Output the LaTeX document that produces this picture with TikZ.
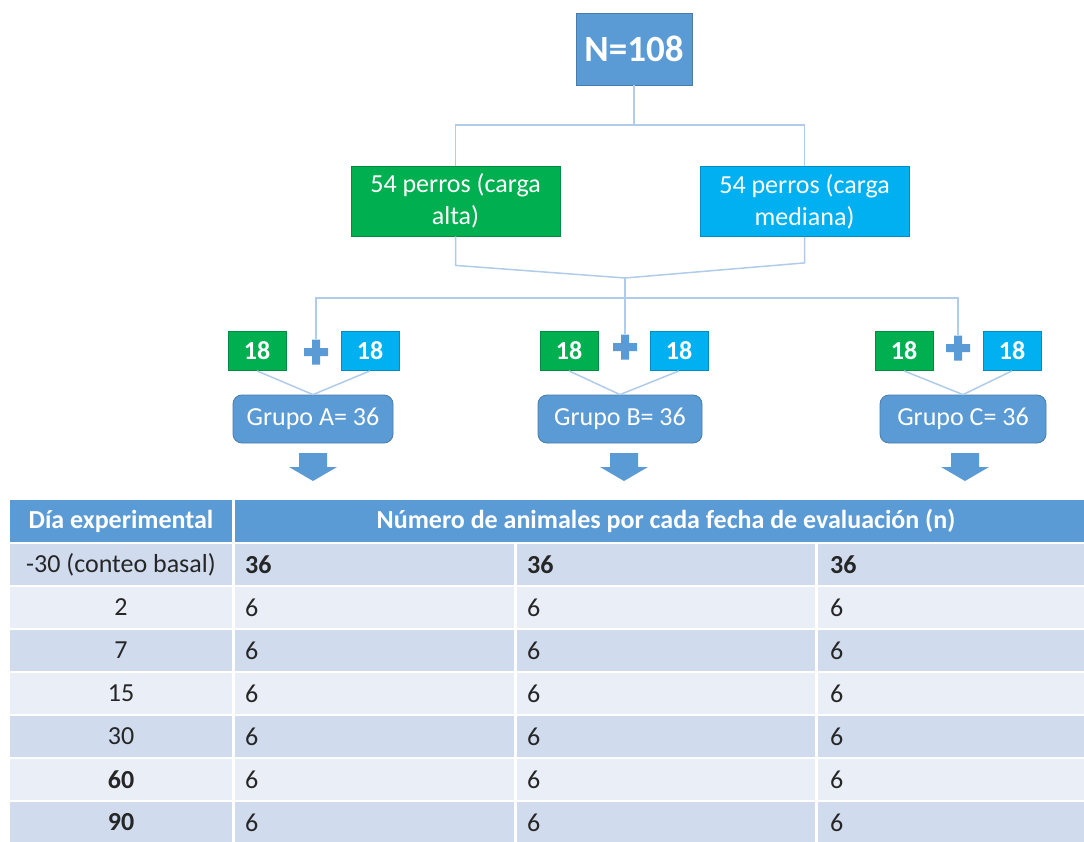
\documentclass[tikz,border=0pt]{standalone}
\usepackage{fontspec}
\setmainfont{Carlito}
\usepackage{xcolor}
\usepackage{tikz}
\usetikzlibrary{arrows.meta}
\usetikzlibrary{positioning}
\usetikzlibrary{calc}

\definecolor{boxBlue}{RGB}{91,155,213}
\definecolor{boxGreen}{RGB}{0,176,80}
\definecolor{boxCyan}{RGB}{0,176,240}
\definecolor{linkColor}{RGB}{176,204,234}
\definecolor{rowDark}{RGB}{208,219,238}
\definecolor{rowLight}{RGB}{233,238,247}
\definecolor{textColor}{RGB}{38,38,38}

\newcommand{\bigsize}{\fontsize{37}{40}\selectfont}
\newcommand{\mainsize}{\fontsize{26}{32}\selectfont}

\tikzset{
  box/.style = {draw=#1!80!black, line width=0.8pt, fill=#1, text=white, inner sep=0pt},
  halfbox/.style = {box=#1, minimum width=58, minimum height=39, font=\mainsize\bfseries},
  loadbox/.style = {box=#1, minimum width=209, minimum height=70, align=center, font=\mainsize},
  grupo/.style = {box=boxBlue, rounded corners=9, minimum width=162, minimum height=48, font=\mainsize},
  link/.style = {draw=linkColor, line width=1.5pt},
  cell/.style = {text=textColor, inner sep=0pt, font=\mainsize},
}

\begin{document}
\begin{tikzpicture}[x=1pt,y=-1pt]
\path[use as bounding box,fill=white] (0,0) rectangle (1084,842);

% arbol de grupos
\node[box=boxBlue, minimum width=116, minimum height=72, font=\bigsize\bfseries] (total) at (634,49) {N=108};
\node[loadbox=boxGreen] (alta) at (455.5,201) {54 perros (carga\\alta)};
\node[loadbox=boxCyan] (mediana) at (804.5,201.5) {54 perros (carga\\mediana)};

\coordinate (split) at (634,125);
\coordinate (merge) at (625,278);
\coordinate (bus) at (625,298);

\draw[link] (total) -- (split);
\draw[link] (alta) |- (split) -| (mediana);
\draw[link] (alta.south) -- ++(0,29) -- (merge);
\draw[link] (mediana.south) -- ++(0,26) -- (merge);
\draw[link] (merge) -- (bus);

\foreach \g/\xv/\xc/\xm/\ym/\xg/\w in {A/257/370/316/352/313/160, B/569/679/625/347/620/164, C/904/1012/958/348/963/166} {
  \node[halfbox=boxGreen] (verde\g) at (\xv,351) {18};
  \node[halfbox=boxCyan] (celeste\g) at (\xc,351) {18};
  \node[minimum size=25, inner sep=0pt] (mas\g) at (\xm,\ym) {};
  \fill[boxBlue] ($(mas\g)+(-12,-4)$) rectangle ($(mas\g)+(12,4)$)
                 ($(mas\g)+(-4,-12.5)$) rectangle ($(mas\g)+(4,12.5)$);
  \node[grupo, minimum width=\w] (grupo\g) at (\xg,419) {Grupo \g= 36};
  \draw[link] (verde\g.south) -- (grupo\g.north);
  \draw[link] (celeste\g.south) -- (grupo\g.north);
}

\draw[link] (masA) |- (bus) -| (masC);
\draw[link] (bus) -- (masB);

% flechas
\foreach \ax in {313,624,965}
  \fill[boxBlue] (\ax-14,453) -- (\ax+14,453) -- (\ax+14,467) -- (\ax+24,467)
                 -- (\ax,481) -- (\ax-24,467) -- (\ax-14,467) -- cycle;

% tabla
\fill[boxBlue] (10,500) rectangle (232,542);
\fill[boxBlue] (235,500) rectangle (1084,542);
\node[text=white, inner sep=0pt, font=\mainsize\bfseries] (hdia) at (121,521) {Día experimental};
\node[text=white, inner sep=0pt, font=\mainsize\bfseries] (hnum) at (666,521) {Número de animales por cada fecha de evaluación (n)};

\foreach \dia/\n/\tone [count=\i from 0] in {{-30 (conteo basal)}/{\bfseries 36}/rowDark, 2/6/rowLight, 7/6/rowDark, 15/6/rowLight, 30/6/rowDark, {\bfseries 60}/6/rowLight, {\bfseries 90}/6/rowDark} {
  \pgfmathsetmacro\ytop{544+43*\i}
  \fill[\tone] (10,\ytop) rectangle (232,\ytop+41);
  \fill[\tone] (235,\ytop) rectangle (514,\ytop+41);
  \fill[\tone] (517,\ytop) rectangle (815,\ytop+41);
  \fill[\tone] (818,\ytop) rectangle (1084,\ytop+41);
  \node[cell] (dia\i) at (121,\ytop+20.5) {\dia};
  \node[cell, anchor=west] (na\i) at (245,\ytop+20.5) {\n};
  \node[cell, anchor=west] (nb\i) at (527,\ytop+20.5) {\n};
  \node[cell, anchor=west] (nc\i) at (830,\ytop+20.5) {\n};
}
\end{tikzpicture}
\end{document}
